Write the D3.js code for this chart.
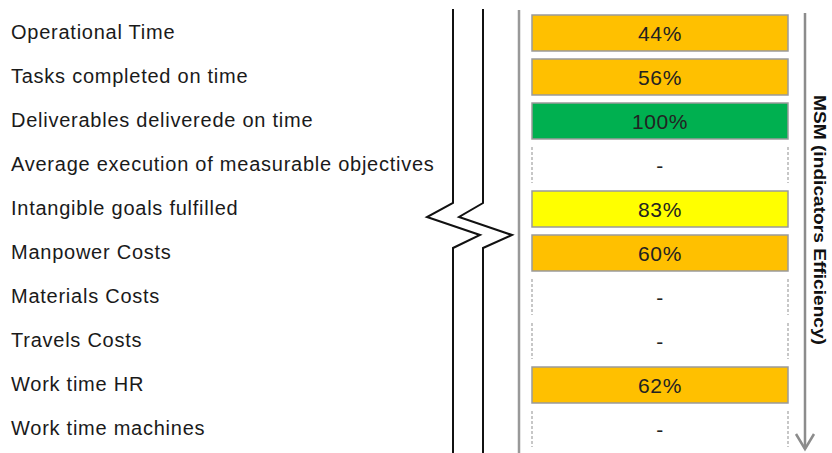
<!DOCTYPE html>
<html>
<head>
<meta charset="utf-8">
<script src="https://cdn.jsdelivr.net/npm/d3@7"></script>
<style>
  html, body { margin: 0; padding: 0; background: #fff; }
  svg { display: block; font-family: Arial, "Liberation Sans", sans-serif; }
</style>
</head>
<body>
<div id="chart"></div>
<script>
// indicator rows, top to bottom
const categories = [
    'Operational Time',
    'Tasks completed on time',
    'Deliverables deliverede on time',
    'Average execution of measurable objectives',
    'Intangible goals fulfilled',
    'Manpower Costs',
    'Materials Costs',
    'Travels Costs',
    'Work time HR',
    'Work time machines'
];
// efficiency in %, null = no value ("-")
const values = [44, 56, 100, null, 83, 60, null, null, 62, null];
const axisTitle = 'MSM (indicators Efficiency)';

const width = 832, height = 453;

const svg = d3.select('#chart')
    .append('svg')
    .attr('width', width)
    .attr('height', height);

const rows = categories.map((c, i) => ({ name: c, value: values[i] }));

const y = d3.scaleBand()
    .domain(categories)
    .range([11, 451])
    .paddingInner(8 / 44)
    .paddingOuter(4 / 44);

const x = d3.scaleLinear().domain([0, 1]).range([532, 788]);

const color = d3.scaleThreshold()
    .domain([80, 100])
    .range(['#ffc000', '#ffff00', '#00b050']);

// labels
svg.append('g')
    .selectAll('text')
    .data(rows)
    .enter().append('text')
    .attr('x', 11)
    .attr('y', d => y(d.name) + y.bandwidth() / 2)
    .attr('dy', '0.3em')
    .attr('font-size', 20)
    .attr('letter-spacing', 0.75)
    .attr('fill', '#1a1a1a')
    .text(d => d.name);

// break marks (two zigzag lines)
const line = d3.line();
const breakY = [9, 203, 217, 235, 248, 453];
[[453, 427, 480], [483, 459, 512]].forEach(([bx, left, right]) => {
    svg.append('path')
        .attr('d', line([
            [bx, breakY[0]], [bx, breakY[1]], [left, breakY[2]],
            [right, breakY[3]], [bx, breakY[4]], [bx, breakY[5]]
        ]))
        .attr('fill', 'none')
        .attr('stroke', '#111')
        .attr('stroke-width', 2);
});

// gray axis line left of boxes
svg.append('line')
    .attr('x1', 519).attr('x2', 519)
    .attr('y1', 10).attr('y2', height)
    .attr('stroke', '#999')
    .attr('stroke-width', 2.5);

// boxes
const cells = svg.append('g')
    .selectAll('g')
    .data(rows)
    .enter().append('g')
    .attr('transform', d => `translate(0,${y(d.name)})`);

cells.filter(d => d.value != null)
    .append('rect')
    .attr('x', x(0))
    .attr('width', x(1) - x(0))
    .attr('height', y.bandwidth())
    .attr('fill', d => color(d.value))
    .attr('stroke', '#9a9a9a')
    .attr('stroke-width', 1.5);

const empty = cells.filter(d => d.value == null);
[x(0), x(1)].forEach(xx => {
    empty.append('line')
        .attr('x1', xx).attr('x2', xx)
        .attr('y1', 0).attr('y2', y.bandwidth())
        .attr('stroke', '#aaa')
        .attr('stroke-width', 1.3)
        .attr('stroke-dasharray', '3,2');
});

cells.append('text')
    .attr('x', (x(0) + x(1)) / 2)
    .attr('y', y.bandwidth() / 2 + 1)
    .attr('dy', '0.35em')
    .attr('text-anchor', 'middle')
    .attr('font-size', 21)
    .attr('letter-spacing', 0.6)
    .attr('fill', '#222')
    .text(d => d.value == null ? '-' : d.value + '%');

// arrow axis on the right
svg.append('line')
    .attr('x1', 805).attr('x2', 805)
    .attr('y1', 13).attr('y2', 449)
    .attr('stroke', '#8c8c8c')
    .attr('stroke-width', 2.5);

svg.append('path')
    .attr('d', line([[796, 434], [805, 449], [814, 434]]))
    .attr('fill', 'none')
    .attr('stroke', '#8c8c8c')
    .attr('stroke-width', 2.5);

svg.append('text')
    .attr('transform', 'translate(820,220) rotate(90)')
    .attr('text-anchor', 'middle')
    .attr('dy', '0.35em')
    .attr('font-size', 16.5)
    .attr('font-weight', 'bold')
    .attr('textLength', 250)
    .attr('lengthAdjust', 'spacingAndGlyphs')
    .attr('fill', '#111')
    .text(axisTitle);
</script>
</body>
</html>
